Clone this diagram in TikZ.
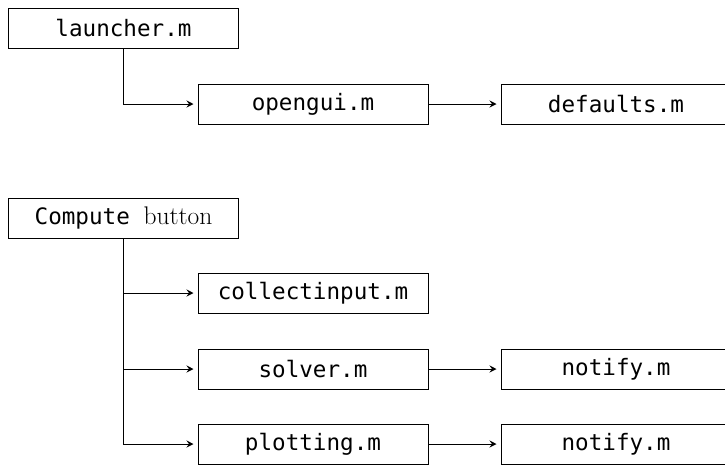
\documentclass[tikz,border=0pt]{standalone}
\usepackage{fontspec}
\setmonofont{DejaVu Sans Mono}
\usetikzlibrary{arrows.meta}
\tikzset{
  filebox/.style={draw=black, line width=1pt, minimum width=230pt, minimum height=40pt,
    inner sep=0pt, font=\fontsize{22.6}{26}\selectfont\ttfamily},
  link/.style={draw=black, line width=1pt, -{Stealth[length=7pt,width=7pt,inset=2.5pt]}, shorten >=4pt}
}
\begin{document}
\begin{tikzpicture}[x=1pt,y=-1pt]
\clip (0,0) rectangle (725,464);
\node[filebox] (launcher) at (123.5,28) {launcher.m};
\node[filebox] (opengui) at (313,104) {opengui.m};
\node[filebox] (defaults) at (616,104) {defaults.m};
\node[filebox] (compute) at (123.5,218) {Compute {\fontsize{25.5}{28}\selectfont\rmfamily button}};
\node[filebox] (collect) at (313,293) {collectinput.m};
\node[filebox] (solver) at (313,369) {solver.m};
\node[filebox] (notifya) at (616,369) {notify.m};
\node[filebox] (plotting) at (313,444) {plotting.m};
\node[filebox] (notifyb) at (616,444) {notify.m};
\draw[link] (launcher.south) |- (opengui.west);
\draw[link] (opengui.east) -- (defaults.west);
\draw[link] (compute.south) |- (collect.west);
\draw[link] (compute.south) |- (solver.west);
\draw[link] (compute.south) |- (plotting.west);
\draw[link] (solver.east) -- (notifya.west);
\draw[link] (plotting.east) -- (notifyb.west);
\end{tikzpicture}
\end{document}
